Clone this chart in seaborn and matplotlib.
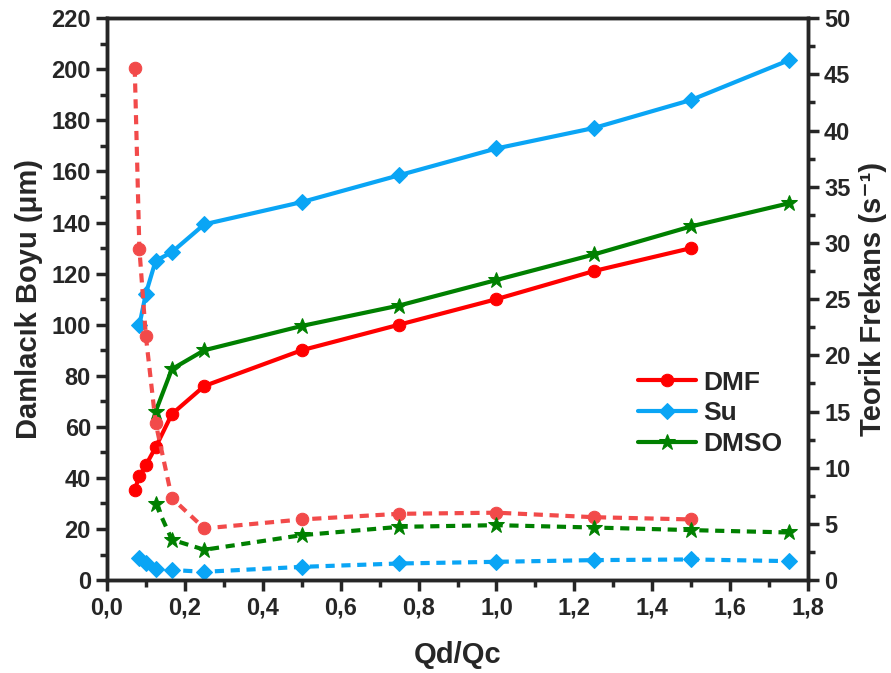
import matplotlib
matplotlib.use("Agg")
import matplotlib.pyplot as plt
import seaborn as sns
import pandas as pd
from matplotlib.ticker import MultipleLocator, FuncFormatter

# values
x_dmf = [0.0714, 0.0833, 0.1, 0.125, 0.1667, 0.25, 0.5, 0.75, 1.0, 1.25, 1.5]
dmf_boyu = [35.3, 40.8, 45.0, 52.0, 65.0, 76.0, 90.0, 100.0, 110.0, 121.0, 130.0]
dmf_frekans = [45.6, 29.5, 21.7, 14.0, 7.3, 4.6, 5.4, 5.9, 6.0, 5.6, 5.4]

x_su = [0.0833, 0.1, 0.125, 0.1667, 0.25, 0.5, 0.75, 1.0, 1.25, 1.5, 1.75]
su_boyu = [99.8, 112.2, 125.0, 128.4, 139.3, 148.0, 158.5, 169.0, 177.0, 188.0, 203.5]
su_frekans = [2.0, 1.5, 1.0, 0.9, 0.74, 1.18, 1.48, 1.63, 1.78, 1.84, 1.69]

x_dmso = [0.125, 0.1667, 0.25, 0.5, 0.75, 1.0, 1.25, 1.5, 1.75]
dmso_boyu = [66.0, 82.6, 90.0, 99.5, 107.5, 117.5, 127.5, 138.5, 147.5]
dmso_frekans = [6.8, 3.6, 2.7, 4.0, 4.74, 4.89, 4.68, 4.45, 4.24]

seriler = [
    ("DMF", x_dmf, dmf_boyu, dmf_frekans, "#ff0000", "#f24a4a", "o", 9),
    ("Su", x_su, su_boyu, su_frekans, "#0aa5f5", "#0aa5f5", "D", 8),
    ("DMSO", x_dmso, dmso_boyu, dmso_frekans, "#008000", "#008000", "*", 12),
]

sns.set_style("ticks")
plt.rcParams["font.family"] = ["Liberation Sans", "DejaVu Sans"]
plt.rcParams["font.weight"] = "bold"

fig, ax = plt.subplots(figsize=(8.91, 6.73), dpi=100)
ax2 = ax.twinx()

for ad, x, boyu, frekans, renk, renk2, mk, ms in seriler:
    df = pd.DataFrame({"x": x, "boyu": boyu, "frekans": frekans})
    sns.lineplot(data=df, x="x", y="boyu", ax=ax, color=renk, marker=mk,
                 markersize=ms, markeredgecolor=renk, linewidth=3, sort=False,
                 label=ad)
    sns.lineplot(data=df, x="x", y="frekans", ax=ax2, color=renk2, marker=mk,
                 markersize=ms, markeredgecolor=renk2, linewidth=3, sort=False,
                 linestyle=(0, (2.2, 1.6)), legend=False)

ax.set_xlim(0, 1.8)
ax.set_ylim(0, 220)
ax2.set_ylim(0, 50)

ax.xaxis.set_major_locator(MultipleLocator(0.2))
ax.xaxis.set_minor_locator(MultipleLocator(0.1))
ax.xaxis.set_major_formatter(FuncFormatter(lambda v, p: f"{v:.1f}".replace(".", ",")))
ax.yaxis.set_major_locator(MultipleLocator(20))
ax.yaxis.set_minor_locator(MultipleLocator(10))
ax2.yaxis.set_major_locator(MultipleLocator(5))
ax2.yaxis.set_minor_locator(MultipleLocator(2.5))

for a in (ax, ax2):
    for s in a.spines.values():
        s.set_linewidth(2.5)
        s.set_visible(True)
    a.tick_params(which="major", length=8, width=2.5, labelsize=17, direction="out")
    a.tick_params(which="minor", length=5, width=2.5, direction="out")
    for lab in a.get_xticklabels() + a.get_yticklabels():
        lab.set_fontweight("bold")

ax.set_xlabel("Qd/Qc", fontsize=21, fontweight="bold", labelpad=16)
ax.set_ylabel("Damlacık Boyu (μm)", fontsize=21, fontweight="bold", labelpad=6)
ax2.set_ylabel("Teorik Frekans (s⁻¹)", fontsize=21, fontweight="bold", labelpad=6)

leg = ax.legend(loc="center left", bbox_to_anchor=(0.757, 0.297), frameon=False,
                fontsize=19, handlelength=2.2, labelspacing=0.25, handletextpad=0.3,
                borderpad=0, borderaxespad=0)
for t in leg.get_texts():
    t.set_fontweight("bold")

fig.subplots_adjust(left=0.12, right=0.907, top=0.973, bottom=0.138)
fig.savefig("out.png", dpi=100)
